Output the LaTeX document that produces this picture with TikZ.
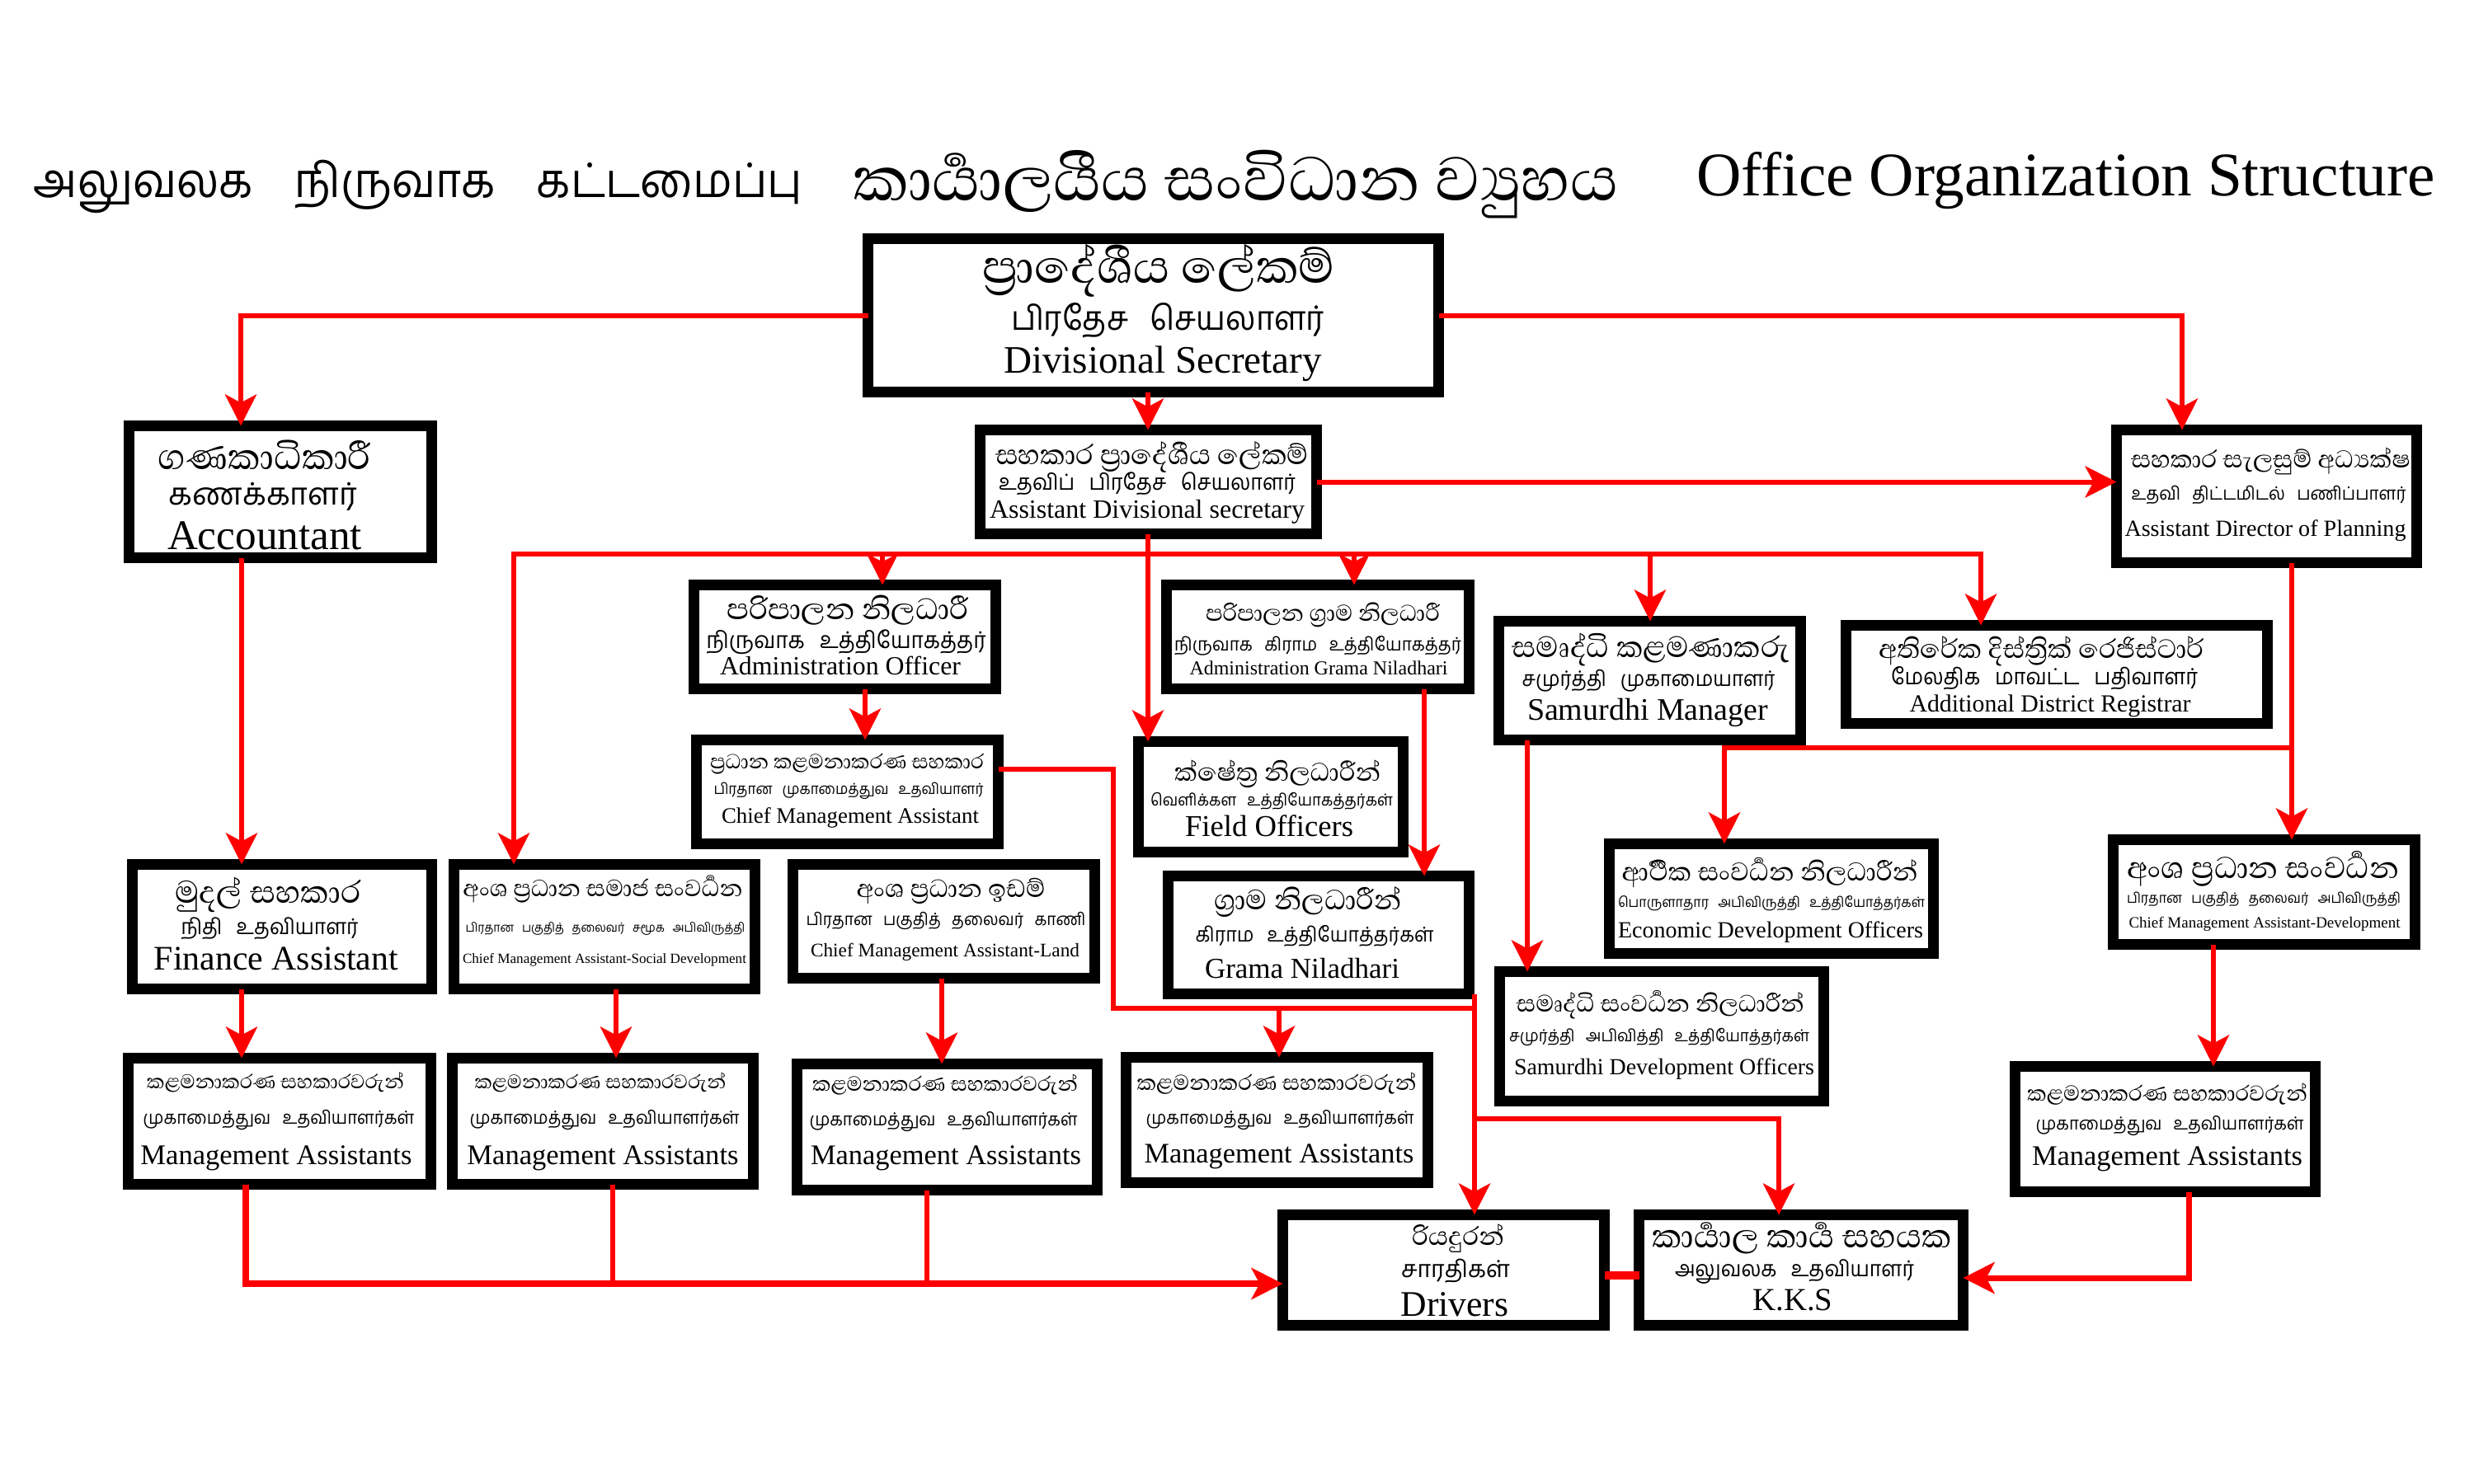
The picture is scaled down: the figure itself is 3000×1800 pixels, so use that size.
\documentclass[tikz,border=0pt]{standalone}
\usepackage{fontspec}
\usepackage{graphicx}
\setmainfont{Liberation Serif}
\newfontfamily\sinf[Script=Sinhala]{Abhaya Libre}
\newfontfamily\tamf[Script=Tamil]{Hind Madurai}
\usetikzlibrary{arrows.meta,fit}
\newlength\pxu \setlength\pxu{0.01cm}
\newcommand\mybox[5]{\node[box, fit={(#2+6.5,#3+6.5) (#4-6.5,#5-6.5)}] (#1) {};}
\newcommand\mytext[6]{\node[txt] (#1) at (#2,#3) {\resizebox{#4\pxu}{!}{#5#6}};}
% Tamil line: wider word gaps, slightly taller glyphs
\newcommand\mytam[5]{\node[txt] (#1) at (#2,#3) {\resizebox{#4\pxu}{!}{\scalebox{1}[1.07]{\tamf #5}}};}
\def\tsp{\hspace{0.45em}}
\def\zj{^^^^200d}
\begin{document}
\begin{tikzpicture}[x=0.01cm, y=-0.01cm,
  box/.style={draw=black, line width=0.13cm, inner sep=0pt, outer sep=0pt},
  txt/.style={anchor=base, inner sep=0pt, outer sep=0pt, text=black},
  line/.style={draw=red, line width=0.06cm},
  arr/.style={line, -{Stealth[length=0.38cm, width=0.38cm, inset=0.1cm]}},
  arrtwo/.style={line, {Stealth[length=0.38cm, width=0.38cm, inset=0.1cm]}-{Stealth[length=0.38cm, width=0.38cm, inset=0.1cm]}}]
\fill[white] (0,0) rectangle (3000,1800);
\useasboundingbox (0,0) rectangle (3000,1800);

% titles
\node[txt] (tt1) at (507,240) {\resizebox{932\pxu}{!}{\scalebox{1}[1.08]{\tamf அலுவலக \hspace{0.45em} நிருவாக \hspace{0.45em} கட்டமைப்பு}}};
\mytext{tt2}{1499}{243}{928}{\sinf}{කාර්\zj යාලයීය සංවිධාන ව්\zj යුහය}
\mytext{tt3}{2505}{238}{896}{}{Office Organization Structure}

% boxes
\mybox{ds}{1046}{283}{1751}{482}
\mybox{ads}{1182}{515}{1603}{654}
\mybox{plan}{2560}{515}{2937}{689}
\mybox{acc}{150}{510}{530}{683}
\mybox{ao}{835}{703}{1214}{842}
\mybox{agn}{1408}{703}{1788}{842}
\mybox{sm}{1811}{747}{2190}{904}
\mybox{adr}{2232}{752}{2756}{884}
\mybox{cma}{838}{891}{1217}{1030}
\mybox{fo}{1374}{893}{1708}{1040}
\mybox{edo}{1945}{1017}{2351}{1163}
\mybox{cmd}{2556}{1012}{2935}{1152}
\mybox{fa}{154}{1042}{530}{1206}
\mybox{sdv}{544}{1042}{922}{1206}
\mybox{land}{955}{1042}{1334}{1193}
\mybox{gn}{1410}{1056}{1788}{1212}
\mybox{sdo}{1812}{1172}{2218}{1342}
\mybox{ma1}{149}{1277}{529}{1443}
\mybox{ma2}{542}{1277}{920}{1443}
\mybox{ma3}{960}{1284}{1337}{1450}
\mybox{mac}{1359}{1276}{1738}{1441}
\mybox{ma4}{2437}{1287}{2814}{1452}
\mybox{drv}{1549}{1467}{1952}{1614}
\mybox{kks}{1981}{1467}{2387}{1614}

% texts
\mytext{ds1}{1405}{343}{428}{\sinf}{ප්\zj රාදේශීය ලේකම්}
\mytam{ds2}{1416}{400}{380}{பிரதேச \tsp செயலாளர்}
\mytext{ds3}{1410}{452}{386}{}{Divisional Secretary}

\mytext{ads1}{1397}{563}{380}{\sinf}{සහකාර ප්\zj රාදේශීය ලේකම්}
\mytam{ads2}{1391}{594}{360}{உதவிப் \tsp பிரதேச \tsp செயலாளர்}
\mytext{ads3}{1391}{628}{382}{}{Assistant Divisional secretary}

\mytext{pl1}{2753}{567}{338}{\sinf}{සහකාර සැලසුම් අධ්\zj යක්ෂ}
\mytam{pl2}{2751}{606}{333}{உதவி \tsp திட்டமிடல் \tsp பணிப்பாளர்}
\mytext{pl3}{2747}{650}{341}{}{Assistant Director of Planning}

\mytext{ac1}{321}{569}{258}{\sinf}{ගණකාධිකාරී}
\node[txt] (ac2) at (319,612) {\resizebox{228\pxu}{!}{\tamf கணக்காளர்}};
\mytext{ac3}{321}{666}{236}{}{Accountant}

\mytext{ao1}{1028}{751}{293}{\sinf}{පරිපාලන නිලධාරී}
\mytam{ao2}{1026}{786}{339}{நிருவாக \tsp உத்தியோகத்தர்}
\mytext{ao3}{1019}{818}{292}{}{Administration Officer}

\mytext{agn1}{1604}{753}{284}{\sinf}{පරිපාලන ග්\zj රාම නිලධාරී}
\mytam{agn2}{1598}{789}{348}{நிருவாக \tsp கிராம \tsp உத்தியோகத்தர்}
\mytext{agn3}{1599}{818}{313}{}{Administration Grama Niladhari}

\mytext{sm1}{2002}{797}{337}{\sinf}{සමෘද්ධි කළමණාකරු}
\mytam{sm2}{1999}{832}{307}{சமுர்த்தி \tsp முகாமையாளர்}
\mytext{sm3}{1998}{873}{292}{}{Samurdhi Manager}

\mytext{adr1}{2475}{798}{394}{\sinf}{අතිරේක දිස්ත්\zj රික් රෙජිස්ටාර්}
\mytam{adr2}{2479}{830}{372}{மேலதிக \tsp மாவட்ட \tsp பதிவாளர்}
\mytext{adr3}{2486}{863}{341}{}{Additional District Registrar}

\mytext{cma1}{1027}{932}{332}{\sinf}{ප්\zj රධාන කළමනාකරණ සහකාර}
\mytam{cma2}{1029}{963}{327}{பிரதான \tsp முகாமைத்துவ \tsp உதவியாளர்}
\mytext{cma3}{1031}{998}{312}{}{Chief Management Assistant}

\mytext{fo1}{1549}{947}{250}{\sinf}{ක්ෂේත්\zj ර නිලධාරීන්}
\mytam{fo2}{1542}{977}{294}{வெளிக்கள \tsp உத்தியோகத்தர்கள்}
\mytext{fo3}{1539}{1014}{204}{}{Field Officers}

\mytext{edo1}{2146}{1068}{359}{\sinf}{ආර්\zj ථික සංවර්\zj ධන නිලධාරීන්}
\mytam{edo2}{2148}{1100}{372}{பொருளாதார \tsp அபிவிருத்தி \tsp உத்தியோத்தர்கள்}
\mytext{edo3}{2147}{1137}{370}{}{Economic Development Officers}

\mytext{cd1}{2744}{1065}{330}{\sinf}{අංශ ප්\zj රධාන සංවර්\zj ධන}
\mytam{cd2}{2745}{1095}{332}{பிரதான \tsp பகுதித் \tsp தலைவர் \tsp அபிவிருத்தி}
\mytext{cd3}{2746}{1125}{329}{}{Chief Management Assistant-Development}

\mytext{fa1}{325}{1095}{225}{\sinf}{මුදල් සහකාර}
\mytam{fa2}{327}{1133}{215}{நிதி \tsp உதவியாளர்}
\mytext{fa3}{335}{1176}{296}{}{Finance Assistant}

\mytext{sd1}{731}{1087}{339}{\sinf}{අංශ ප්\zj රධාන සමාජ සංවර්\zj ධන}
\mytam{sd2}{734}{1130}{339}{பிரதான \tsp பகுதித் \tsp தலைவர் \tsp சமூக \tsp அபிவிருத்தி}
\mytext{sd3}{733}{1168}{344}{}{Chief Management Assistant-Social Development}

\mytext{ld1}{1153}{1088}{229}{\sinf}{අංශ ප්\zj රධාන ඉඩම්}
\mytam{ld2}{1147}{1122}{339}{பிரதான \tsp பகுதித் \tsp தலைவர் \tsp காணி}
\mytext{ld3}{1146}{1160}{326}{}{Chief Management Assistant-Land}

\mytext{gn1}{1586}{1103}{227}{\sinf}{ග්\zj රාම නිලධාරීන්}
\mytam{gn2}{1594}{1142}{289}{கிராம \tsp உத்தியோத்தர்கள்}
\mytext{gn3}{1579}{1186}{236}{}{Grama Niladhari}

\mytext{sdo1}{2013}{1227}{349}{\sinf}{සමෘද්ධි සංවර්\zj ධන නිලධාරීන්}
\mytam{sdo2}{2012}{1263}{364}{சமுர்த்தி \tsp அபிவித்தி \tsp உத்தியோத்தர்கள்}
\mytext{sdo3}{2018}{1303}{364}{}{Samurdhi Development Officers}

\mytext{m11}{334}{1320}{312}{\sinf}{කළමනාකරණ සහකාරවරුන්}
\mytam{m12}{338}{1363}{329}{முகாமைத்துவ \tsp உதவியாளர்கள்}
\mytext{m13}{335}{1412}{329}{}{Management Assistants}

\mytext{m21}{728}{1320}{305}{\sinf}{කළමනාකරණ සහකාරවරුන්}
\mytam{m22}{733}{1363}{327}{முகாமைத்துவ \tsp உதவியாளர்கள்}
\mytext{m23}{731}{1412}{329}{}{Management Assistants}

\mytext{m31}{1146}{1323}{322}{\sinf}{කළමනාකරණ සහකාරවරුන්}
\mytam{m32}{1144}{1365}{325}{முகாமைத்துவ \tsp உதவியாளர்கள்}
\mytext{m33}{1147}{1412}{328}{}{Management Assistants}

\mytext{mc1}{1548}{1322}{339}{\sinf}{කළමනාකරණ සහකාරවරුන්}
\mytam{mc2}{1552}{1363}{325}{முகாமைத்துவ \tsp உதவியாளர்கள்}
\mytext{mc3}{1551}{1410}{327}{}{Management Assistants}

\mytext{m41}{2628}{1335}{340}{\sinf}{කළමනාකරණ සහකාරවරුන්}
\mytam{m42}{2631}{1370}{325}{முகாமைத்துவ \tsp உதவியாளர்கள்}
\mytext{m43}{2628}{1413}{328}{}{Management Assistants}

\mytext{dr1}{1768}{1510}{112}{\sinf}{රියදුරන්}
\node[txt] (dr2) at (1765,1549) {\resizebox{132\pxu}{!}{\tamf சாரதிகள்}};
\mytext{dr3}{1764}{1596}{131}{}{Drivers}

\mytext{kk1}{2185}{1513}{363}{\sinf}{කාර්\zj යාල කාර්\zj ය සහයක}
\mytam{kk2}{2176}{1548}{290}{அலுவலக \tsp உதவியாளர்}
\mytext{kk3}{2174}{1589}{97}{}{K.K.S}

% junctions
\coordinate (busL) at (623,672);
\coordinate (busR) at (2402,672);
\coordinate (j1) at (1350,1223);
\coordinate (j2) at (1788,1223);
\coordinate (j3) at (1788,1357);
\coordinate (j4) at (2779,907);
\coordinate (bot) at (298,1557);

% connectors
\draw[arr] (ds.west) -| (acc.north -| 292,0);
\draw[arr] (ds.east) -| (plan.north -| 2646,0);
\draw[arr] (ds.south -| 1392,0) -- (ads.north -| 1392,0);
\draw[arr] (ads.east) -- (ads.east -| plan.west);
\draw[arr] (ads.south -| 1392,0) -- (fo.north -| 1392,0);
\draw[arrtwo] (sdv.north -| busL) -- (busL) -- (busR) -- (adr.north -| busR);
\draw[arr] (busL -| 1070,0) -- (ao.north -| 1070,0);
\draw[arr] (busL -| 1642,0) -- (agn.north -| 1642,0);
\draw[arr] (busL -| 2001,0) -- (sm.north -| 2001,0);
\draw[arr] (acc.south -| 293,0) -- (fa.north -| 293,0);
\draw[arr] (ao.south -| 1049,0) -- (cma.north -| 1049,0);
\draw[line] (cma.east |- 0,933) -| (j1) -- (j2);
\draw[arr] (gn.south -| j2) -- (drv.north -| j2);
\draw[arr] (j1 -| 1551,0) -- (mac.north -| 1551,0);
\draw[arr] (j3) -| (kks.north -| 2157,0);
\draw[arr] (agn.south -| 1727,0) -- (gn.north -| 1727,0);
\draw[arr] (sm.south -| 1852,0) -- (sdo.north -| 1852,0);
\draw[arr] (plan.south -| 2779,0) -- (cmd.north -| 2779,0);
\draw[arr] (j4) -| (edo.north -| 2091,0);
\draw[arr] (fa.south -| 293,0) -- (ma1.north -| 293,0);
\draw[arr] (sdv.south -| 747,0) -- (ma2.north -| 747,0);
\draw[arr] (land.south -| 1142,0) -- (ma3.north -| 1142,0);
\draw[arr] (cmd.south -| 2684,0) -- (ma4.north -| 2684,0);
\draw[arr, line width=0.08cm] (ma1.south -| bot) |- (drv.west |- bot);
\draw[line] (ma2.south -| 743,0) -- (bot -| 743,0);
\draw[line] (ma3.south -| 1124,0) -- (bot -| 1124,0);
\draw[line, line width=0.1cm] (drv.east |- 0,1547) -- (kks.west |- 0,1547);
\draw[arr, line width=0.07cm] (ma4.south -| 2654,0) |- (kks.east |- 0,1550);
\end{tikzpicture}
\end{document}
